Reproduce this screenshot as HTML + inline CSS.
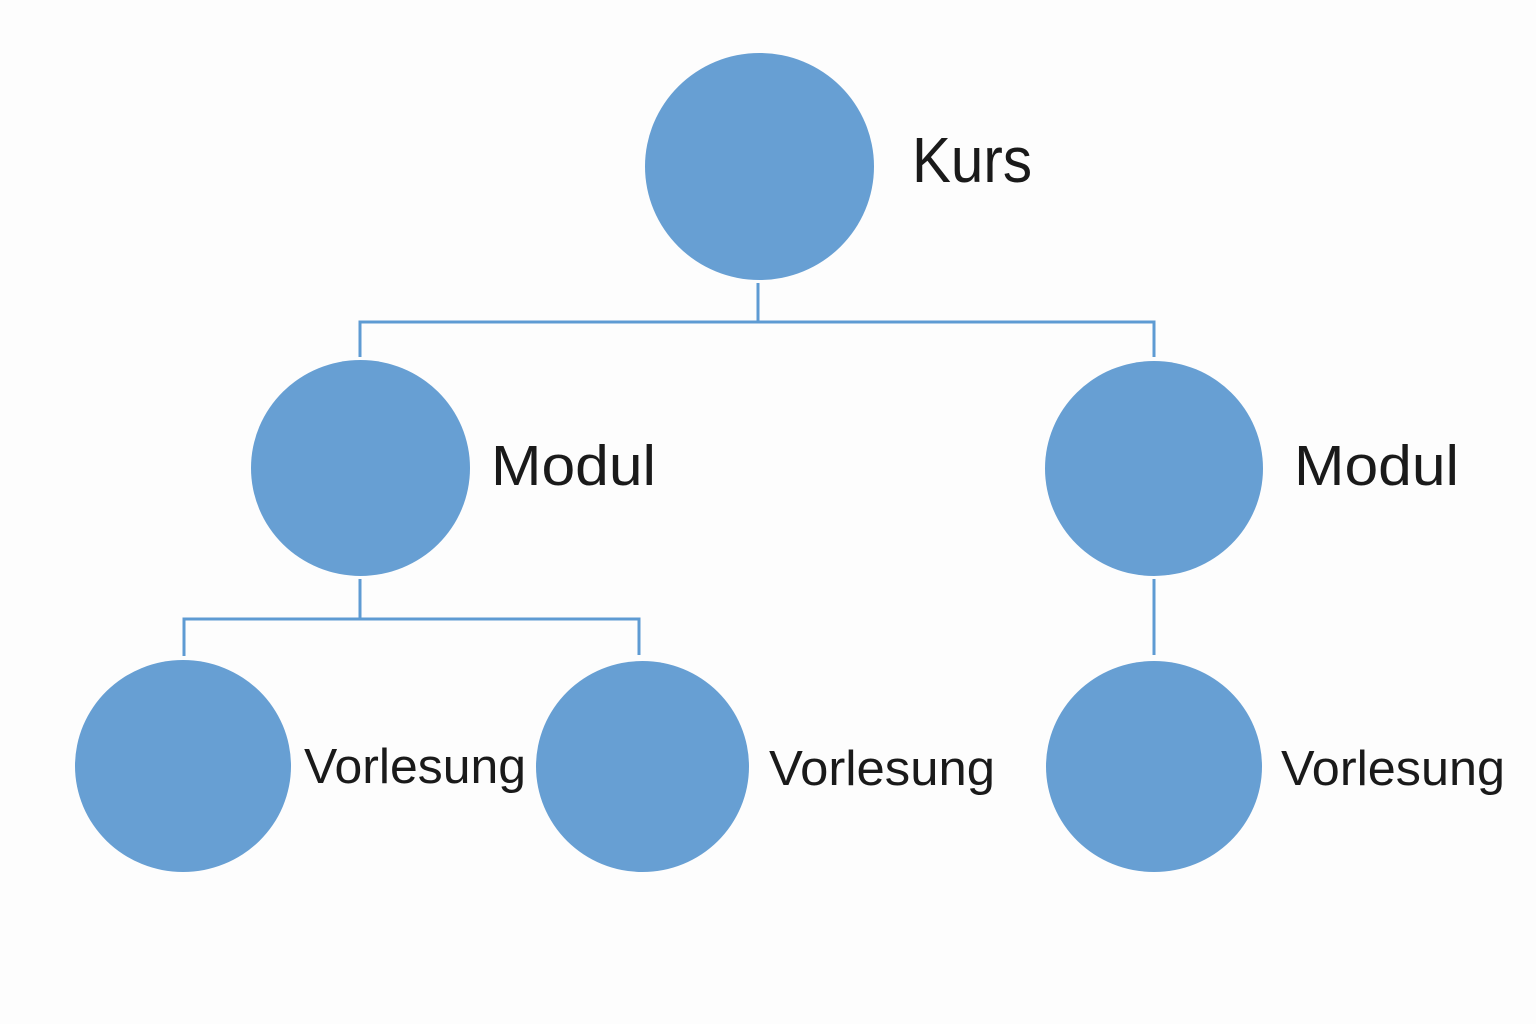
<!DOCTYPE html>
<html>
<head>
<meta charset="utf-8">
<style>
  html,body{margin:0;padding:0;background:#fdfdfd;}
  svg{display:block;}
  text{font-family:"Liberation Sans","DejaVu Sans",sans-serif;fill:#1a1a1a;}
</style>
</head>
<body>
<svg width="1536" height="1024" viewBox="0 0 1536 1024" xmlns="http://www.w3.org/2000/svg">
  <rect width="1536" height="1024" fill="#fdfdfd"/>
  <!-- connectors -->
  <g stroke="#5e9bd3" stroke-width="3" fill="none">
    <line x1="758" y1="283" x2="758" y2="322"/>
    <polyline points="360,357 360,322 1154,322 1154,357"/>
    <line x1="360" y1="579" x2="360" y2="619"/>
    <polyline points="184,656 184,619 639,619 639,655"/>
    <line x1="1154" y1="579" x2="1154" y2="655"/>
  </g>
  <!-- circles -->
  <g fill="#679fd3">
    <ellipse cx="759.5" cy="166.5" rx="114.5" ry="113.5"/>
    <ellipse cx="360.5" cy="468" rx="109.5" ry="108"/>
    <ellipse cx="1154" cy="468.5" rx="109" ry="107.5"/>
    <ellipse cx="183" cy="766" rx="108" ry="106"/>
    <ellipse cx="642.5" cy="766.5" rx="106.5" ry="105.5"/>
    <ellipse cx="1154" cy="766.5" rx="108" ry="105.5"/>
  </g>
  <!-- labels -->
  <text x="912" y="182" font-size="64" textLength="120" lengthAdjust="spacingAndGlyphs">Kurs</text>
  <text x="491" y="485" font-size="57" textLength="165" lengthAdjust="spacingAndGlyphs">Modul</text>
  <text x="1294" y="485" font-size="57" textLength="165" lengthAdjust="spacingAndGlyphs">Modul</text>
  <text x="304" y="783" font-size="49" textLength="222" lengthAdjust="spacingAndGlyphs">Vorlesung</text>
  <text x="769" y="785" font-size="49" textLength="226" lengthAdjust="spacingAndGlyphs">Vorlesung</text>
  <text x="1281" y="785" font-size="49" textLength="224" lengthAdjust="spacingAndGlyphs">Vorlesung</text>
</svg>
</body>
</html>
